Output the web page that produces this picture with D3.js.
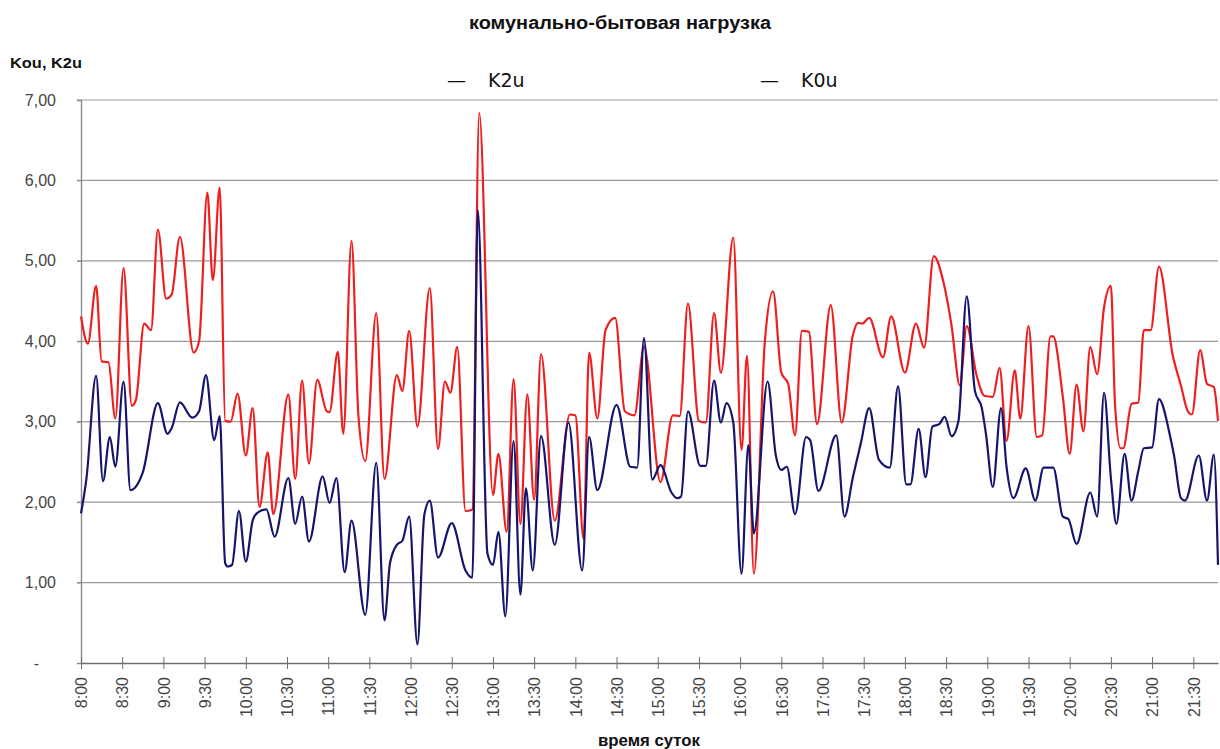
<!DOCTYPE html>
<html>
<head>
<meta charset="utf-8">
<script src="https://cdn.jsdelivr.net/npm/d3@7"></script>
<style>
  body { margin: 0; background: #fff; }
  svg { display: block; }
</style>
</head>
<body>
<svg id="chart" width="1220" height="749"></svg>
<script>
// K2u readings (clock time, value)
const k2uTime = ["8:00","8:05","8:11","8:15","8:20","8:25","8:31","8:37","8:40","8:46","8:51","8:56","9:02","9:06","9:12","9:22","9:26","9:32","9:36","9:41",
  "9:45","9:49","9:54","10:00","10:05","10:10","10:16","10:20","10:31","10:36","10:41","10:46","10:52","10:59","11:01","11:07","11:11","11:17","11:22","11:27",
  "11:35","11:41","11:50","11:54","11:59","12:05","12:14","12:20","12:25","12:29","12:34","12:40","12:45","12:50","13:00","13:04","13:10",
  "13:15","13:20","13:25","13:30","13:35","13:45","13:56","14:00","14:06","14:10","14:16","14:22","14:29","14:36","14:43","14:50","15:02",
  "15:11","15:16","15:22","15:30","15:35","15:41","15:46","15:55","16:01","16:05","16:10","16:18","16:24","16:30","16:35","16:40","16:45",
  "16:50","16:56","17:06","17:14","17:22","17:26","17:29","17:34","17:44","17:50","18:00","18:08","18:14","18:21","18:28",
  "18:34","18:40","18:45","18:52","18:58","19:04","19:09","19:14","19:20","19:24","19:30","19:36","19:40","19:46","19:48","19:55","20:00","20:05","20:10","20:15",
  "20:20","20:25","20:30","20:33","20:37","20:39","20:45","20:50","20:54","20:59","21:05","21:15","21:21","21:26","21:29","21:35","21:40","21:45","21:48"];
const k2uValue = [4.31,3.97,4.69,3.75,3.74,3.04,4.91,3.20,3.27,4.22,4.14,5.39,4.53,4.58,5.30,3.86,4.00,5.85,4.76,5.91,
  3.01,3.00,3.35,2.58,3.17,1.94,2.62,1.85,3.34,2.29,3.51,2.48,3.52,3.13,3.12,3.87,2.85,5.25,3.08,2.51,
  4.35,2.29,3.58,3.38,4.13,2.94,4.66,2.66,3.50,3.36,3.93,1.89,1.91,6.84,2.09,2.60,1.63,
  3.53,1.73,3.34,2.03,3.84,1.77,3.09,3.08,1.54,3.86,3.04,4.14,4.29,3.13,3.08,3.93,2.25,
  3.08,3.07,4.47,3.01,2.99,4.35,3.61,5.29,2.65,3.82,1.11,4.00,4.62,3.61,3.47,2.83,4.13,
  4.12,2.97,4.45,2.99,4.07,4.23,4.22,4.29,3.80,4.31,3.61,4.22,3.92,5.06,4.74,
  4.19,3.45,4.19,3.59,3.32,3.31,3.67,2.76,3.64,3.04,4.19,2.81,2.83,4.06,4.06,3.31,2.60,3.46,2.88,3.93,
  3.59,4.42,4.69,3.22,2.67,2.67,3.22,3.24,4.14,4.14,4.93,3.83,3.45,3.13,3.09,3.89,3.47,3.43,3.01];

// K0u readings (clock time, value)
const k0uTime = ["8:00","8:04","8:11","8:16","8:21","8:25","8:31","8:36","8:45","8:56","9:03","9:06","9:12","9:21","9:26","9:31","9:37","9:41",
  "9:45","9:47","9:50","9:55","10:00","10:05","10:08","10:15","10:21","10:31","10:36","10:41","10:46","10:56","11:01","11:06","11:12","11:17","11:27",
  "11:35","11:41","11:45","11:50","11:54","11:59","12:05","12:10","12:14","12:20","12:30","12:40","12:45","12:49","12:56","13:00","13:04","13:09",
  "13:15","13:20","13:24","13:29","13:35","13:45","13:55","14:05","14:10","14:16","14:30","14:40","14:45","14:50","14:56",
  "15:02","15:10","15:14","15:17","15:22","15:31","15:35","15:41","15:46","15:50","15:55","16:01","16:06","16:10","16:20","16:26","16:30","16:34","16:40",
  "16:48","16:51","16:57","17:10","17:16","17:22","17:28","17:34","17:41","17:49","17:55","18:01","18:04","18:10","18:15","18:20","18:25","18:29",
  "18:34","18:39","18:45","18:51","18:56","18:59","19:04","19:10","19:14","19:19","19:28","19:35","19:41","19:48","19:55","19:59","20:05","20:15",
  "20:20","20:25","20:30","20:34","20:40","20:45","20:50","20:54","21:00","21:05","21:13","21:16","21:21","21:24","21:34","21:40","21:45","21:48"];
const k0uValue = [1.86,2.30,3.57,2.26,2.81,2.44,3.50,2.15,2.37,3.23,2.85,2.92,3.24,3.05,3.13,3.58,2.77,3.07,
  1.24,1.20,1.22,1.89,1.26,1.77,1.86,1.91,1.57,2.30,1.73,2.07,1.51,2.32,1.99,2.30,1.13,1.77,0.60,
  2.49,0.53,1.24,1.47,1.52,1.82,0.23,1.84,2.02,1.31,1.74,1.15,1.06,5.63,1.36,1.22,1.63,0.58,
  2.76,0.85,2.17,1.15,2.82,1.47,2.99,1.15,2.81,2.15,3.21,2.44,2.43,4.04,2.28,
  2.46,2.12,2.05,2.07,3.13,2.45,2.45,3.51,2.99,3.23,2.99,1.11,2.71,1.61,3.50,2.58,2.40,2.44,1.85,
  2.81,2.77,2.14,2.83,1.82,2.30,2.74,3.17,2.53,2.43,3.44,2.22,2.22,2.91,2.31,2.94,2.97,3.06,
  2.82,3.01,4.56,3.38,3.17,2.85,2.19,3.17,2.44,2.05,2.42,2.02,2.43,2.43,1.82,1.79,1.48,2.12,
  1.82,3.36,2.30,1.73,2.60,2.02,2.39,2.67,2.68,3.28,2.83,2.58,2.05,2.02,2.58,2.02,2.59,1.22];

const yTickValues = [0, 1, 2, 3, 4, 5, 6, 7];
const yTickLabels = ["-", "1,00", "2,00", "3,00", "4,00", "5,00", "6,00", "7,00"];
const xTickLabels = ["8:00","8:30","9:00","9:30","10:00","10:30","11:00","11:30","12:00","12:30","13:00","13:30","14:00","14:30",
  "15:00","15:30","16:00","16:30","17:00","17:30","18:00","18:30","19:00","19:30","20:00","20:30","21:00","21:30"];

const titleText = "комунально-бытовая нагрузка";
const yAxisTitle = "Kou, K2u";
const xAxisTitle = "время суток";

// minutes elapsed since the start of the observation window
const startMinutes = 8 * 60;
const toMinutes = s => { const [h, m] = s.split(":").map(Number); return h * 60 + m - startMinutes; };

const series = [
  { name: "K2u", color: "#ef1f1f", points: k2uTime.map((t, i) => ({ t: toMinutes(t), v: k2uValue[i] })) },
  { name: "K0u", color: "#15156e", points: k0uTime.map((t, i) => ({ t: toMinutes(t), v: k0uValue[i] })) }
];

const margin = { left: 81, right: 2, top: 100, bottom: 86 };
const W = 1220, H = 749;
const svg = d3.select("#chart");

const tEnd = d3.max(series, s => d3.max(s.points, p => p.t));
const x = d3.scaleLinear().domain([0, tEnd]).range([margin.left, W - margin.right]);
const y = d3.scaleLinear().domain([0, 7]).range([H - margin.bottom, margin.top]);

const labelFont = "'Liberation Sans', Arial, sans-serif";

// horizontal gridlines
svg.append("g")
  .selectAll("line")
  .data(yTickValues.filter(v => v > 0))
  .join("line")
  .attr("x1", x(0) - 4).attr("x2", x.range()[1])
  .attr("y1", d => y(d)).attr("y2", d => y(d))
  .attr("stroke", "#9a9a9a").attr("stroke-width", 1.2);

// y axis
const yAxis = d3.axisLeft(y)
  .tickValues(yTickValues)
  .tickSize(4)
  .tickPadding(21)
  .tickFormat((d, i) => yTickLabels[i]);
const gy = svg.append("g").attr("transform", `translate(${x(0)},0)`).call(yAxis);
gy.select(".domain").attr("stroke", "#8a8a8a").attr("stroke-width", 1.4);
gy.selectAll(".tick line").attr("stroke", "#8a8a8a");
gy.selectAll(".tick text")
  .attr("font-family", labelFont).attr("font-size", 16).attr("fill", "#444");
gy.selectAll(".tick").filter(d => d === 0).select("text").attr("dx", -17);

// x axis: ticks every 30 minutes, crossing the base line
const xTickValues = xTickLabels.map(toMinutes);
const xAxis = d3.axisBottom(x)
  .tickValues(xTickValues)
  .tickSizeInner(6)
  .tickSizeOuter(0)
  .tickFormat((d, i) => xTickLabels[i]);
const gx = svg.append("g").attr("transform", `translate(0,${y(0)})`).call(xAxis);
gx.select(".domain").attr("stroke", "#6e6e6e").attr("stroke-width", 1.4);
gx.selectAll(".tick line").attr("y1", -6).attr("stroke", "#6e6e6e");
gx.selectAll(".tick text")
  .attr("font-family", labelFont).attr("font-size", 16).attr("fill", "#444")
  .attr("text-anchor", "end")
  .attr("transform", "rotate(-90)")
  .attr("x", -14).attr("y", 0).attr("dy", "0.36em");

// data lines
const line = d3.line()
  .x(d => x(d.t))
  .y(d => y(d.v))
  .curve(d3.curveMonotoneX);

svg.append("g")
  .selectAll("path")
  .data(series)
  .join("path")
  .attr("d", d => line(d.points))
  .attr("fill", "none")
  .attr("stroke", d => d.color)
  .attr("stroke-width", 2.2)
  .attr("stroke-linejoin", "round");

// titles (condensed bold lettering)
svg.append("text")
  .attr("x", 620).attr("y", 29)
  .attr("text-anchor", "middle")
  .attr("font-family", labelFont).attr("font-weight", "bold").attr("font-size", 18)
  .attr("textLength", 302).attr("lengthAdjust", "spacingAndGlyphs")
  .attr("fill", "#111")
  .text(titleText);

svg.append("text")
  .attr("x", 10).attr("y", 68)
  .attr("font-family", labelFont).attr("font-weight", "bold").attr("font-size", 15)
  .attr("textLength", 72).attr("lengthAdjust", "spacingAndGlyphs")
  .attr("fill", "#111")
  .text(yAxisTitle);

svg.append("text")
  .attr("x", 649).attr("y", 746)
  .attr("text-anchor", "middle")
  .attr("font-family", labelFont).attr("font-weight", "bold").attr("font-size", 16)
  .attr("textLength", 102).attr("lengthAdjust", "spacingAndGlyphs")
  .attr("fill", "#111")
  .text(xAxisTitle);

// legend: a dash followed by the series name
const legendX = [447, 760];
const legend = svg.append("g")
  .selectAll("g")
  .data(series)
  .join("g")
  .attr("transform", (d, i) => `translate(${legendX[i]},87)`)
  .attr("font-family", "'DejaVu Sans', sans-serif").attr("font-size", 19)
  .attr("fill", "#111");
legend.append("text").attr("x", 0).text("\u2014");
legend.append("text").attr("x", 41).text(d => d.name);
</script>
</body>
</html>
